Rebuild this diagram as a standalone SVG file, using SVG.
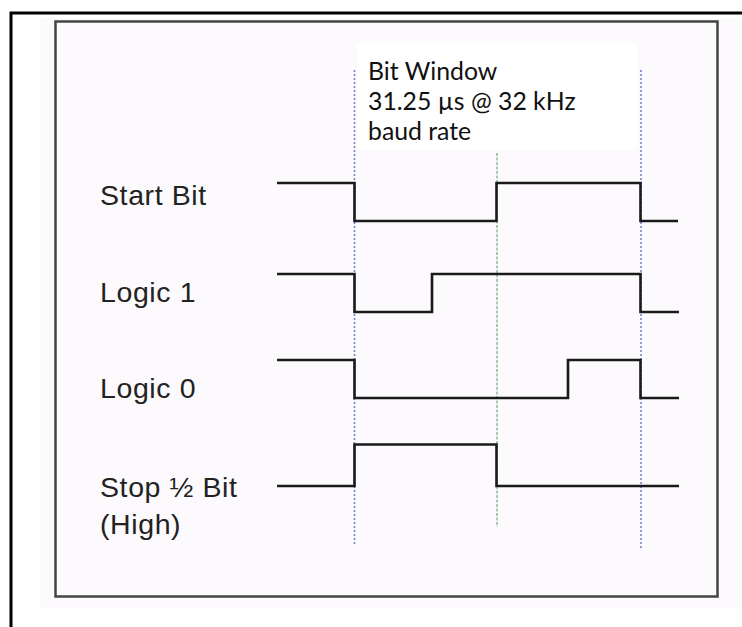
<svg xmlns="http://www.w3.org/2000/svg" width="742" height="627" viewBox="0 0 742 627">
<style>
.lbl{font-family:"Liberation Sans",Arial,sans-serif;font-size:28.5px;letter-spacing:0.6px;fill:#222}
.note{font-family:Lato,"Noto Sans",sans-serif;font-size:24.8px;fill:#111}
.wave{fill:none;stroke:#1a1a1a;stroke-width:2.6}
.blue{stroke:#6f86d2;stroke-width:1.6;stroke-dasharray:2 2}
.green{stroke:#a9c9b0;stroke-width:2;stroke-dasharray:3 1.5}
</style>
<rect x="0" y="0" width="742" height="627" fill="#fff"/>
<rect x="40" y="18" width="700" height="590" fill="#fcfafc"/>
<g id="frame">
<polyline points="742,13 11,13 11,627" fill="none" stroke="#000" stroke-width="3"/>
</g>
<g id="panel">
<rect x="55.5" y="21.5" width="662" height="575" fill="#fcfafc" stroke="#444" stroke-width="2.5"/>
</g>
<g id="note">
<rect x="357" y="44" width="280" height="106" fill="#fff"/>
<text class="note" x="368" y="80">Bit Window</text>
<text class="note" x="368" y="110">31.25 µs @ 32 kHz</text>
<text class="note" x="368" y="140">baud rate</text>
</g>
<g id="connectors">
<line class="blue" x1="354.5" y1="70" x2="354.5" y2="546"/>
<line class="blue" x1="641" y1="70" x2="641" y2="549"/>
<line class="green" x1="497" y1="153" x2="497" y2="527"/>
</g>
<g id="start-bit">
<text class="lbl" x="100" y="205">Start Bit</text>
<polyline class="wave" points="277,183 354.5,183 354.5,221 496.5,221 496.5,183 640.5,183 640.5,221 678,221"/>
</g>
<g id="logic-1">
<text class="lbl" x="100" y="302">Logic 1</text>
<polyline class="wave" points="277,274 354.5,274 354.5,312 432,312 432,274 640.5,274 640.5,312 679,312"/>
</g>
<g id="logic-0">
<text class="lbl" x="100" y="398">Logic 0</text>
<polyline class="wave" points="277,360 354.5,360 354.5,398 568,398 568,360 640.5,360 640.5,398 679,398"/>
</g>
<g id="stop-bit">
<text class="lbl" x="100" y="497">Stop ½ Bit</text>
<text class="lbl" x="100" y="534">(High)</text>
<polyline class="wave" points="277,486 354.5,486 354.5,444.5 496.5,444.5 496.5,486 679,486"/>
</g>
</svg>
